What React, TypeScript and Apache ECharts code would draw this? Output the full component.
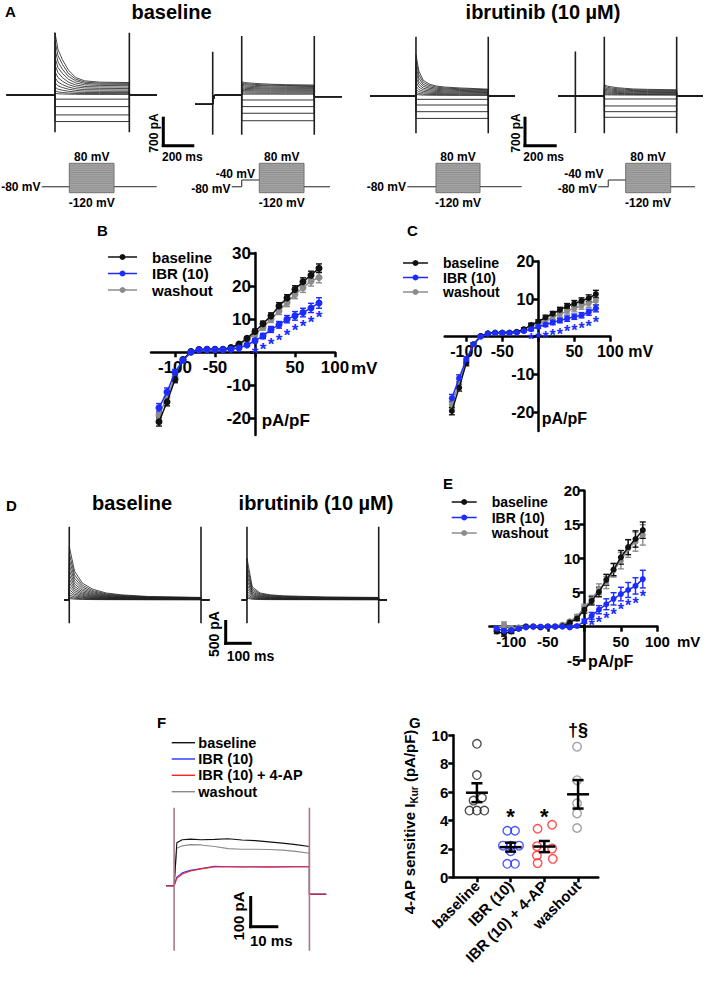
import React, { useEffect, useRef } from "react";
import * as echarts from "echarts";

const FONT = '"Liberation Sans", Arial, Helvetica, sans-serif';
const BLACK = "#111111";
const BLUE = "#1c2bff";
const GREY = "#8c8c8c";
const RED = "#ff2020";
const TRACE = "#1e1e1e";

// ---------- Panel A / D : current families (pA) sampled at these times (ms after step onset)
const traceTimes = [0, 20, 50, 90, 140, 200, 300, 500];

const a1Outward = [
  [1500, 1100, 850, 600, 420, 340, 310, 300],
  [1300, 950, 740, 520, 380, 310, 285, 280],
  [1100, 800, 620, 450, 340, 280, 260, 255],
  [900, 660, 520, 380, 290, 245, 230, 225],
  [720, 540, 420, 310, 240, 205, 195, 190],
  [560, 420, 330, 250, 195, 170, 160, 155],
  [420, 310, 250, 190, 150, 130, 125, 120],
  [300, 220, 180, 140, 110, 95, 90, 88],
  [190, 140, 115, 90, 70, 62, 60, 58],
  [100, 75, 60, 48, 40, 35, 34, 33],
  [40, 30, 25, 20, 17, 15, 14, 14],
];
const a1Inward = [-100, -280, -480, -640];
const a2Outward = [
  [320, 300, 290, 280, 270, 260, 250, 240],
  [290, 275, 265, 255, 245, 238, 230, 222],
  [260, 248, 240, 232, 225, 218, 212, 205],
  [230, 220, 212, 205, 198, 192, 187, 182],
  [200, 190, 184, 178, 172, 167, 163, 160],
  [170, 162, 157, 152, 148, 144, 140, 138],
  [140, 134, 130, 126, 122, 119, 116, 114],
  [110, 106, 103, 100, 97, 95, 93, 92],
  [80, 77, 75, 73, 71, 70, 69, 68],
  [50, 48, 47, 46, 45, 44, 44, 43],
  [22, 21, 21, 20, 20, 20, 19, 19],
];
const a2Inward = [-120, -280, -440, -620];
const a3Outward = [
  [1000, 600, 380, 290, 240, 215, 195, 165],
  [850, 510, 330, 255, 215, 192, 175, 150],
  [700, 430, 280, 220, 188, 170, 155, 135],
  [570, 350, 235, 188, 162, 148, 135, 118],
  [450, 280, 190, 155, 135, 124, 114, 100],
  [340, 215, 150, 124, 110, 100, 93, 83],
  [240, 155, 112, 94, 84, 77, 72, 65],
  [160, 105, 78, 66, 60, 55, 52, 47],
  [90, 60, 45, 39, 35, 33, 31, 29],
  [40, 28, 22, 19, 17, 16, 15, 14],
];
const a3Inward = [-80, -217, -378, -540];
const a4Outward = [
  [270, 240, 220, 200, 185, 170, 160, 150],
  [235, 210, 192, 176, 163, 150, 142, 133],
  [200, 180, 165, 152, 141, 131, 124, 117],
  [168, 152, 140, 129, 120, 112, 106, 100],
  [138, 125, 115, 106, 99, 93, 88, 83],
  [108, 98, 90, 84, 78, 73, 70, 66],
  [80, 73, 67, 62, 58, 55, 52, 50],
  [54, 49, 45, 42, 40, 38, 36, 34],
  [30, 27, 25, 24, 23, 22, 21, 20],
];
const a4Inward = [-72, -240, -378, -513];

const d1Outward = [
  [1150, 620, 360, 230, 150, 110, 75, 55],
  [1000, 540, 315, 200, 132, 97, 67, 50],
  [870, 470, 275, 176, 116, 86, 60, 45],
  [750, 405, 238, 153, 102, 76, 54, 40],
  [640, 345, 204, 132, 89, 67, 48, 36],
  [540, 292, 173, 113, 77, 58, 42, 32],
  [450, 243, 145, 96, 66, 50, 37, 28],
  [370, 200, 120, 80, 56, 43, 32, 24],
  [295, 160, 97, 65, 46, 36, 27, 20],
  [225, 123, 76, 52, 37, 29, 22, 17],
  [165, 91, 57, 39, 29, 23, 18, 14],
  [110, 62, 40, 28, 21, 17, 13, 10],
  [65, 38, 25, 18, 14, 11, 9, 7],
  [30, 18, 12, 9, 7, 6, 5, 4],
];
const d2Outward = [
  [900, 280, 150, 110, 90, 80, 65, 55],
  [760, 240, 130, 96, 78, 70, 57, 48],
  [640, 205, 112, 83, 68, 61, 50, 42],
  [530, 172, 95, 71, 58, 52, 43, 36],
  [430, 142, 80, 60, 49, 44, 36, 30],
  [340, 115, 66, 49, 40, 36, 30, 25],
  [260, 90, 52, 39, 32, 29, 24, 20],
  [190, 68, 40, 30, 25, 22, 19, 16],
  [130, 48, 29, 22, 18, 16, 14, 12],
  [80, 31, 19, 15, 12, 11, 10, 8],
  [40, 16, 10, 8, 7, 6, 5, 4],
];

// capacitive transients: [time ms, top pA, bottom pA]
const a1Spikes = [[0, 1500, -900], [500, 1500, -900]];
const a2Spikes = [[-200, 1040, -960], [0, 1420, -960], [500, 1420, -960]];
const a3Spikes = [[0, 1430, -900], [500, 1430, -900]];
const a4Spikes = [[-200, 1070, -890], [0, 1430, -900], [500, 1430, -900]];
const dSpikes = [[0, 1576, -500], [500, 1576, -500]];

// ---------- Panel F traces (pA) at these times (ms)
const fTimes = [0, 1, 3, 6, 10, 15, 20, 25, 30, 35, 40, 45, 50];
const fBaseline = [0, 140, 150, 152, 150, 151, 153, 149, 147, 143, 139, 134, 128];
const fWashout = [0, 122, 130, 134, 133, 128, 121, 119, 119, 118, 116, 112, 106];
const fIbr = [0, 28, 42, 50, 56, 63, 62, 61, 62, 61, 62, 62, 62];
const fIbrAp = [0, 24, 38, 48, 55, 62, 62, 62, 61, 62, 61, 62, 62];
const fSpikes = [[0, 254, -212], [50, 254, -212]];

// ---------- I-V curves (pA/pF)
const ivVoltages = [-120, -110, -100, -90, -80, -70, -60, -50, -40, -30, -20, -10, 0, 10, 20, 30, 40, 50, 60, 70, 80];

const bBaseline = [-21, -15, -8.2, -2.2, 0.2, 0.8, 0.9, 0.9, 0.9, 1.4, 2.5, 4.2, 6.3, 8.6, 11, 14, 16.4, 19, 21.3, 23.3, 25.4];
const bIbr = [-16.8, -12, -6.1, -2.4, 0, 0.7, 0.8, 0.8, 0.8, 0.9, 1.3, 2.2, 3.5, 4.9, 6.9, 8.3, 10, 11, 12, 13.4, 14.9];
const bWashout = [-19, -13.5, -7.5, -2.3, 0.2, 0.8, 0.9, 0.9, 0.9, 1.3, 2.3, 3.8, 5.5, 7.6, 10, 12.5, 15, 17.5, 19.5, 21.5, 22.6];
const bBaselineErr = [1.3, 1.2, 1, 0.5, 0.2, 0.2, 0.2, 0.2, 0.2, 0.3, 0.4, 0.5, 0.7, 0.8, 0.9, 1, 1, 1.1, 1.2, 1.2, 1.3];
const bIbrErr = [1.3, 1.2, 0.9, 0.5, 0.2, 0.2, 0.2, 0.2, 0.2, 0.2, 0.3, 0.4, 0.6, 0.8, 0.9, 1, 1.1, 1.3, 1.3, 1.4, 1.6];
const bWashoutErr = [1.2, 1.1, 0.9, 0.5, 0.2, 0.2, 0.2, 0.2, 0.2, 0.3, 0.4, 0.6, 0.8, 0.9, 1, 1.1, 1.2, 1.3, 1.4, 1.5, 1.6];
const bStarV = [0, 10, 20, 30, 40, 50, 60, 70, 80];
const bStarY = [0.7, 2, 3.4, 4.7, 6.2, 7.6, 8.8, 10.2, 11.6];

const cBaseline = [-19.7, -13.5, -7, -2, 0.2, 0.9, 1.1, 1.1, 1.1, 1.3, 2, 3.1, 4, 5.1, 6.1, 7.1, 8.1, 8.8, 9.5, 10.2, 11.3];
const cIbr = [-16.3, -11, -6, -2, 0, 0.8, 1, 1, 1, 1.1, 1.5, 2, 2.7, 3.2, 3.8, 4.3, 4.8, 5.3, 5.7, 6.5, 7.5];
const cWashout = [-18, -12.3, -6.5, -2, 0.1, 0.9, 1, 1, 1, 1.2, 1.8, 2.8, 3.5, 4.2, 5.2, 6, 6.8, 7.5, 8.2, 8.8, 9.5];
const cBaselineErr = [1, 0.9, 0.7, 0.4, 0.2, 0.2, 0.2, 0.2, 0.2, 0.3, 0.4, 0.5, 0.5, 0.6, 0.6, 0.7, 0.7, 0.8, 0.8, 0.9, 1];
const cIbrErr = [1, 0.9, 0.7, 0.4, 0.2, 0.2, 0.2, 0.2, 0.2, 0.2, 0.3, 0.4, 0.5, 0.5, 0.6, 0.6, 0.7, 0.7, 0.7, 0.8, 0.9];
const cWashoutErr = [1, 0.9, 0.7, 0.4, 0.2, 0.2, 0.2, 0.2, 0.2, 0.3, 0.4, 0.5, 0.6, 0.6, 0.7, 0.8, 0.8, 0.9, 0.9, 1, 1];
const cStarV = [-10, 0, 10, 20, 30, 40, 50, 60, 70, 80];
const cStarY = [0.2, 0.5, 0.8, 1.2, 1.6, 2.2, 2.6, 3.1, 3.6, 4.8];

const eBaseline = [-0.7, -1, -0.7, -0.3, 0, 0, -0.1, 0, 0, 0.1, 0.6, 1.2, 2.5, 3.8, 5.1, 6.9, 8.4, 10.2, 11.7, 12.9, 14.2];
const eIbr = [-0.3, -0.6, -0.5, -0.3, -0.1, 0, 0, 0, 0, 0, -0.1, 0.1, 0.8, 1.6, 2.5, 3.3, 4.1, 4.8, 5.4, 6, 7];
const eWashout = [-0.3, 0.3, -0.2, -0.1, 0.1, 0.1, 0, 0.1, 0.1, 0.3, 0.8, 1.5, 2.8, 4, 5.5, 6.5, 8.3, 9.7, 11.5, 12.5, 13.5];
const eBaselineErr = [0.3, 0.4, 0.3, 0.2, 0.1, 0.1, 0.1, 0.1, 0.1, 0.1, 0.2, 0.3, 0.5, 0.6, 0.7, 0.8, 0.9, 1, 1.1, 1.2, 1.2];
const eIbrErr = [0.3, 0.3, 0.3, 0.2, 0.1, 0.1, 0.1, 0.1, 0.1, 0.1, 0.1, 0.2, 0.3, 0.5, 0.6, 0.8, 0.9, 1, 1.1, 1.2, 1.3];
const eWashoutErr = [0.3, 0.4, 0.3, 0.2, 0.1, 0.1, 0.1, 0.1, 0.1, 0.1, 0.2, 0.3, 0.5, 0.6, 0.8, 0.9, 1, 1.2, 1.3, 1.4, 1.5];
const eStarV = [10, 20, 30, 40, 50, 60, 70, 80];
const eStarY = [0.7, 1.2, 1.7, 2.35, 3, 3.7, 4, 5];

// ---------- Panel G (pA/pF)
const gCategories = ["baseline", "IBR (10)", "IBR (10) + 4-AP", "washout"];
const gBaseline = [9.4, 7.2, 5.6, 5.4, 4.7, 4.7, 4.7];
const gIbr = [3.28, 3.28, 2.23, 2.23, 2.23, 1.84, 0.95, 0.95];
const gIbrAp = [3.42, 3.7, 2.19, 2.02, 1.53, 1.3, 1.0];
const gWashout = [9.2, 6.84, 5.21, 4.5, 3.47];
const gJitter = [
  [0, 0, 0.15, -0.1, -0.22, 0, 0.22],
  [-0.1, 0.13, -0.23, 0, 0.25, 0, -0.1, 0.13],
  [-0.2, 0.23, -0.22, 0.23, -0.22, 0.25, -0.2],
  [-0.03, -0.03, -0.03, -0.03, -0.03],
];
const gStarCats = [1, 2];
const gStarY = [4.6, 4.6];
const gDaggerY = 10.35;

function meanSem(v: number[]) {
  const m = v.reduce((a, b) => a + b, 0) / v.length;
  const sd = Math.sqrt(v.reduce((a, b) => a + (b - m) * (b - m), 0) / (v.length - 1));
  return [m, sd / Math.sqrt(v.length)];
}

function buildOption() {
  const grids: any[] = [];
  const xAxes: any[] = [];
  const yAxes: any[] = [];
  const series: any[] = [];
  const graphic: any[] = [];

  const addGrid = (left: number, top: number, width: number, height: number) => {
    grids.push({ left, top, width, height, containLabel: false });
    return grids.length - 1;
  };
  const hidden = (gi: number, min: number, max: number) => ({ gridIndex: gi, type: "value", min, max, show: false });

  // ---- trace panels
  const traceGrid = (left: number, top: number, width: number, height: number, x0: number, x1: number, y0: number, y1: number) => {
    const gi = addGrid(left, top, width, height);
    xAxes.push(hidden(gi, x0, x1));
    yAxes.push(hidden(gi, y0, y1));
    return gi;
  };
  const lineS = (gi: number, data: number[][], color: string, width: number, z = 2) =>
    series.push({
      type: "line", xAxisIndex: gi, yAxisIndex: gi, data, symbol: "none", silent: true, z,
      lineStyle: { color, width }, animation: false,
    });

  const family = (gi: number, pre: number[][], post: number, xEnd: number, outward: number[][], inward: number[], spikes: number[][]) => {
    outward.forEach((row) => {
      const d = [...pre, ...traceTimes.map((t, i) => [t, row[i]]), [500, post], [xEnd, post]];
      lineS(gi, d, TRACE, 0.8);
    });
    inward.forEach((v) => {
      lineS(gi, [...pre, [0, v], [500, v], [500, post], [xEnd, post]], TRACE, 0.9);
    });
    spikes.forEach((s) => lineS(gi, [[s[0], s[1]], [s[0], s[2]]], TRACE, 1.6, 3));
  };

  const gA1 = traceGrid(6.7, 28.6, 150, 107.9, -325, 684, -1000, 1600);
  family(gA1, [[-325, 0], [0, 0]], 0, 684, a1Outward, a1Inward, a1Spikes);
  const gA2 = traceGrid(195, 28.6, 146.7, 107.9, -322, 689, -1000, 1600);
  family(gA2, [[-322, -225], [-200, -225], [-190, -10], [-170, 0], [0, 0]], -40, 689, a2Outward, a2Inward, a2Spikes);
  const gA3 = traceGrid(370, 29.6, 145, 107.9, -318, 685, -1000, 1600);
  family(gA3, [[-318, 0], [0, 0]], 0, 685, a3Outward, a3Inward, a3Spikes);
  const gA4 = traceGrid(558, 29.6, 145, 107.9, -320, 682, -1000, 1600);
  family(gA4, [[-320, 0], [0, 0]], 0, 682, a4Outward, a4Inward, a4Spikes);

  const gD1 = traceGrid(64, 520.9, 145.3, 107, -20, 531.5, -600, 1700);
  family(gD1, [[-20, 0], [0, 0]], 0, 531.5, d1Outward, [], dSpikes);
  const gD2 = traceGrid(241.7, 520.9, 145.3, 107, -20, 531.5, -600, 1700);
  family(gD2, [[-20, 0], [0, 0]], 0, 531.5, d2Outward, [], dSpikes);

  const gF = traceGrid(166, 793.7, 160.2, 168.7, -3, 56.2, -250, 300);
  const fTrace = (vals: number[], color: string) =>
    lineS(gF, [[-3, 0], ...fTimes.map((t, i) => [t, vals[i]]), [50, -28], [56.2, -28]], color, 1.1);
  fTrace(fWashout, "#8a8a8a");
  fTrace(fBaseline, "#111111");
  fTrace(fIbr, "#2233ff");
  fTrace(fIbrAp, "#ff2222");
  fSpikes.forEach((s) => lineS(gF, [[s[0], s[1]], [s[0], s[2]]], "#a97a88", 1.6, 4));

  // ---- I-V panels (axes crossing at the origin, via offsets)
  const axisLineStyle = { color: "#000", width: 2.5 };
  const X_MIN = -130, X_MAX = 100;
  const ivGrid = (left: number, top: number, width: number, height: number, yMin: number, yMax: number,
    yTicks: number[], yLabels: number[], fs: number) => {
    const gi = addGrid(left, top, width, height);
    const zeroY = (height * yMax) / (yMax - yMin); // px from top to y=0
    const zeroX = (width * (0 - X_MIN)) / (X_MAX - X_MIN); // px from left to x=0
    xAxes.push({
      gridIndex: gi, type: "value", min: X_MIN, max: X_MAX, position: "bottom", offset: -(height - zeroY),
      axisLine: { show: true, onZero: false, lineStyle: axisLineStyle },
      axisTick: { show: true, length: 5, customValues: [-100, -50, 0, 50, 100], lineStyle: axisLineStyle },
      axisLabel: { show: true, customValues: [-100, -50, 50, 100], fontSize: fs, fontWeight: "bold", fontFamily: FONT, color: "#000", margin: 7 },
      splitLine: { show: false },
    });
    yAxes.push({
      gridIndex: gi, type: "value", min: yMin, max: yMax, position: "left", offset: -zeroX,
      axisLine: { show: true, onZero: false, lineStyle: axisLineStyle },
      axisTick: { show: true, length: 5, customValues: yTicks, lineStyle: axisLineStyle },
      axisLabel: { show: true, customValues: yLabels, fontSize: fs, fontWeight: "bold", fontFamily: FONT, color: "#000", margin: 4 },
      splitLine: { show: false },
    });
    return gi;
  };
  const errS = (gi: number, ys: number[], errs: number[], color: string, cap: number) =>
    series.push({
      type: "custom", xAxisIndex: gi, yAxisIndex: gi, silent: true, z: 2,
      data: ivVoltages.map((v, i) => [v, ys[i], errs[i]]),
      renderItem: (params: any, api: any) => {
        const x = api.value(0), y = api.value(1), e = api.value(2);
        const a = api.coord([x, y + e]);
        const b = api.coord([x, y - e]);
        const st = { stroke: color, lineWidth: 1.4 };
        return {
          type: "group", children: [
            { type: "line", shape: { x1: a[0], y1: a[1], x2: b[0], y2: b[1] }, style: st },
            { type: "line", shape: { x1: a[0] - cap, y1: a[1], x2: a[0] + cap, y2: a[1] }, style: st },
            { type: "line", shape: { x1: b[0] - cap, y1: b[1], x2: b[0] + cap, y2: b[1] }, style: st },
          ],
        };
      },
    });
  const ivLine = (gi: number, name: string, ys: number[], color: string, size: number, z: number) =>
    series.push({
      type: "line", name, xAxisIndex: gi, yAxisIndex: gi, silent: true, z,
      data: ivVoltages.map((v, i) => [v, ys[i]]),
      symbol: "circle", symbolSize: size, itemStyle: { color }, lineStyle: { color, width: 1.5 },
    });
  const starS = (gi: number, xs: number[], ys: number[], color: string, fs: number) =>
    series.push({
      type: "custom", xAxisIndex: gi, yAxisIndex: gi, silent: true, z: 5,
      data: xs.map((x, i) => [x, ys[i]]),
      renderItem: (params: any, api: any) => {
        const p = api.coord([api.value(0), api.value(1)]);
        return {
          type: "text", x: p[0], y: p[1] + fs * 0.22,
          style: { text: "*", fill: color, fontSize: fs, fontWeight: "bold", fontFamily: FONT, align: "center", verticalAlign: "middle" },
        };
      },
    });
  const ivPanel = (gi: number, base: number[], ibr: number[], wash: number[], be: number[], ie: number[], we: number[],
    size: number, sx: number[], sy: number[], sfs: number) => {
    errS(gi, wash, we, GREY, 3);
    errS(gi, base, be, BLACK, 3);
    errS(gi, ibr, ie, BLUE, 3);
    ivLine(gi, "washout", wash, GREY, size, 3);
    ivLine(gi, "baseline", base, BLACK, size, 4);
    ivLine(gi, "IBR (10)", ibr, BLUE, size, 5);
    starS(gi, sx, sy, BLUE, sfs);
  };

  const gB = ivGrid(151, 253, 184, 182, -25, 30, [-20, -10, 0, 10, 20, 30], [-20, -10, 10, 20, 30], 17);
  ivPanel(gB, bBaseline, bIbr, bWashout, bBaselineErr, bIbrErr, bWashoutErr, 7, bStarV, bStarY, 17);
  const gC = ivGrid(444.7, 261.3, 165.6, 169.7, -25, 20, [-20, -10, 0, 10, 20], [-20, -10, 10, 20], 16);
  ivPanel(gC, cBaseline, cIbr, cWashout, cBaselineErr, cIbrErr, cWashoutErr, 6, cStarV, cStarY, 16);
  const gE = ivGrid(489.4, 490.7, 168, 170, -5, 20, [-5, 0, 5, 10, 15, 20], [-5, 5, 10, 15, 20], 15);
  ivPanel(gE, eBaseline, eIbr, eWashout, eBaselineErr, eIbrErr, eWashoutErr, 6, eStarV, eStarY, 16);

  // ---- panel G
  const gG = addGrid(453.3, 735.3, 145, 142);
  xAxes.push({
    gridIndex: gG, type: "value", min: -0.7, max: 3.6,
    axisLine: { show: true, onZero: false, lineStyle: axisLineStyle },
    axisTick: { show: true, length: 5, customValues: [0, 1, 2, 3], lineStyle: axisLineStyle },
    axisLabel: {
      show: true, customValues: [0, 1, 2, 3], rotate: 45, margin: 6,
      formatter: (v: number) => gCategories[Math.round(v)],
      fontSize: 15, fontWeight: "bold", fontFamily: FONT, color: "#000",
    },
    splitLine: { show: false },
  });
  yAxes.push({
    gridIndex: gG, type: "value", min: 0, max: 10, interval: 2,
    axisLine: { show: true, onZero: false, lineStyle: axisLineStyle },
    axisTick: { show: true, length: 5, lineStyle: axisLineStyle },
    axisLabel: { show: true, fontSize: 15, fontWeight: "bold", fontFamily: FONT, color: "#000", margin: 5 },
    splitLine: { show: false },
  });
  const gGroups = [gBaseline, gIbr, gIbrAp, gWashout];
  const gColors = ["#222222", "#2233ff", "#ff2222", "#8a8a8a"];
  gGroups.forEach((vals, i) => {
    series.push({
      type: "scatter", xAxisIndex: gG, yAxisIndex: gG, silent: true, z: 3,
      data: vals.map((v, j) => [i + gJitter[i][j], v]),
      symbol: "circle", symbolSize: 8.5,
      itemStyle: { color: "rgba(255,255,255,0)", borderColor: gColors[i], borderWidth: 1.4 },
    });
  });
  series.push({
    type: "custom", xAxisIndex: gG, yAxisIndex: gG, silent: true, z: 6,
    data: gGroups.map((vals, i) => { const [m, s] = meanSem(vals); return [i, m, s]; }),
    renderItem: (params: any, api: any) => {
      const x = api.value(0), m = api.value(1), s = api.value(2);
      const pm = api.coord([x, m]);
      const hi = api.coord([x, m + s]);
      const lo = api.coord([x, m - s]);
      const halfMean = 11, halfCap = 5.5;
      const st = { stroke: "#000", lineWidth: 2.5 };
      return {
        type: "group", children: [
          { type: "line", shape: { x1: pm[0] - halfMean, y1: pm[1], x2: pm[0] + halfMean, y2: pm[1] }, style: st },
          { type: "line", shape: { x1: hi[0], y1: hi[1], x2: lo[0], y2: lo[1] }, style: st },
          { type: "line", shape: { x1: hi[0] - halfCap, y1: hi[1], x2: hi[0] + halfCap, y2: hi[1] }, style: st },
          { type: "line", shape: { x1: lo[0] - halfCap, y1: lo[1], x2: lo[0] + halfCap, y2: lo[1] }, style: st },
        ],
      };
    },
  });
  series.push({
    type: "custom", xAxisIndex: gG, yAxisIndex: gG, silent: true, z: 6,
    data: [...gStarCats.map((c, i) => [c, gStarY[i], 0]), [3, gDaggerY, 1]],
    renderItem: (params: any, api: any) => {
      const p = api.coord([api.value(0), api.value(1)]);
      const dag = api.value(2) === 1;
      return {
        type: "text", x: p[0], y: dag ? p[1] : p[1] + 5,
        style: {
          text: dag ? "†§" : "*", fill: "#000", fontSize: dag ? 18 : 22, fontWeight: "bold",
          fontFamily: FONT, align: "center", verticalAlign: "middle",
        },
      };
    },
  });

  // ---- graphic annotations
  const txt = (x: number, y: number, text: string, fontSize: number, align = "left", rotation = 0, weight = "bold") =>
    graphic.push({
      type: "text", x, y, rotation, z: 100, silent: true,
      style: { text, fontSize, fontWeight: weight, fontFamily: FONT, fill: "#000", align, verticalAlign: "middle" },
    });
  const ln = (x1: number, y1: number, x2: number, y2: number, w = 3, stroke = "#000") =>
    graphic.push({ type: "line", z: 100, silent: true, shape: { x1, y1, x2, y2 }, style: { stroke, lineWidth: w } });

  // panel letters
  txt(5, 11, "A", 15);
  txt(97, 230, "B", 15);
  txt(407, 230, "C", 15);
  txt(6, 505, "D", 15);
  txt(443, 483, "E", 15);
  txt(157, 722, "F", 15);
  txt(409, 722, "G", 15);

  // titles
  txt(171.5, 12, "baseline", 20, "center");
  txt(543, 12, "ibrutinib (10 µM)", 20, "center");
  txt(132, 503, "baseline", 20, "center");
  txt(316, 503, "ibrutinib (10 µM)", 20, "center");

  // scale bars
  ln(163.3, 116.7, 163.3, 147, 3); ln(161.8, 145.7, 194.3, 145.7, 3);
  txt(154.3, 133, "700 pA", 12, "center", Math.PI / 2);
  txt(162, 157, "200 ms", 12);
  ln(525, 116.7, 525, 147, 3); ln(523.5, 145.7, 556.7, 145.7, 3);
  txt(515.7, 133, "700 pA", 12, "center", Math.PI / 2);
  txt(523.3, 157, "200 ms", 12);
  ln(225.7, 620, 225.7, 644.8, 3); ln(224.2, 643.3, 251.7, 643.3, 3);
  txt(213.5, 634, "500 pA", 14, "center", Math.PI / 2);
  txt(226.7, 656, "100 ms", 14);
  ln(250.7, 896, 250.7, 928.2, 3); ln(249.2, 926.7, 278.3, 926.7, 3);
  txt(238.5, 916, "100 pA", 15, "center", Math.PI / 2);
  txt(250, 940, "10 ms", 15);

  // voltage protocols
  const PROT = "#555555";
  const box = (x: number, w: number) => {
    graphic.push({ type: "rect", z: 99, silent: true, shape: { x, y: 163.3, width: w, height: 29.4 }, style: { fill: "#ababab", stroke: "#707070", lineWidth: 1 } });
    for (let k = 1; k < 16; k++) ln(x, 163.3 + (k * 29.4) / 16, x + w, 163.3 + (k * 29.4) / 16, 0.6, "#7c7c7c");
  };
  ln(41.7, 186.7, 69.3, 186.7, 1.3, PROT); box(69.3, 44.7); ln(114, 186.7, 156.7, 186.7, 1.3, PROT);
  txt(40.5, 187, "-80 mV", 12, "right"); txt(91.7, 156.5, "80 mV", 12, "center"); txt(91.7, 203.3, "-120 mV", 12, "center");
  ln(231.7, 186.7, 241.7, 186.7, 1.3, PROT); ln(241.7, 186.7, 241.7, 180, 1.3, PROT); ln(241.7, 180, 259.3, 180, 1.3, PROT);
  box(259.3, 44.7); ln(304, 186.7, 330, 186.7, 1.3, PROT);
  txt(255, 174, "-40 mV", 12, "right"); txt(230.5, 189.3, "-80 mV", 12, "right");
  txt(281.7, 156.5, "80 mV", 12, "center"); txt(281.7, 203.3, "-120 mV", 12, "center");
  ln(407.3, 186.7, 436, 186.7, 1.3, PROT); box(436, 44); ln(480, 186.7, 521.7, 186.7, 1.3, PROT);
  txt(406, 187, "-80 mV", 12, "right"); txt(458, 156.5, "80 mV", 12, "center"); txt(458, 203.3, "-120 mV", 12, "center");
  ln(598.3, 186.7, 608.3, 186.7, 1.3, PROT); ln(608.3, 186.7, 608.3, 180, 1.3, PROT); ln(608.3, 180, 625.7, 180, 1.3, PROT);
  box(625.7, 45); ln(670.7, 186.7, 695, 186.7, 1.3, PROT);
  txt(603.5, 174, "-40 mV", 12, "right"); txt(597, 189.3, "-80 mV", 12, "right");
  txt(648, 156.5, "80 mV", 12, "center"); txt(648, 203.3, "-120 mV", 12, "center");

  // axis units
  txt(351, 368, "mV", 17); txt(261.7, 420, "pA/pF", 17);
  txt(628.3, 351.7, "mV", 16); txt(541.7, 418.3, "pA/pF", 16);
  txt(677, 641.7, "mV", 15); txt(588, 661.7, "pA/pF", 16);

  // legends
  const legend = (x1: number, x2: number, tx: number, ys: number[], items: { label: string; color: string }[], dot: boolean, fs: number) => {
    items.forEach((it, i) => {
      ln(x1, ys[i], x2, ys[i], dot ? 1.5 : 1.4, it.color);
      if (dot) graphic.push({ type: "circle", z: 101, silent: true, shape: { cx: (x1 + x2) / 2, cy: ys[i], r: 3 }, style: { fill: it.color } });
      txt(tx, ys[i], it.label, fs);
    });
  };
  const ivItems = [{ label: "baseline", color: BLACK }, { label: "IBR (10)", color: BLUE }, { label: "washout", color: GREY }];
  legend(108, 137, 152, [257, 273.5, 290], ivItems, true, 15);
  legend(403, 428, 443, [263, 277.5, 292], ivItems, true, 14);
  legend(451.7, 476.7, 491.7, [502, 517.5, 533], ivItems, true, 14);
  legend(171.7, 195, 198.3, [742.7, 759, 775.3, 791.7], [
    { label: "baseline", color: "#111111" }, { label: "IBR (10)", color: "#2233ff" },
    { label: "IBR (10) + 4-AP", color: "#ff2222" }, { label: "washout", color: "#8a8a8a" },
  ], false, 14.5);

  // G y-axis title with subscript
  graphic.push({
    type: "text", x: 409, y: 822, rotation: Math.PI / 2, z: 100, silent: true,
    style: {
      text: "{a|4-AP sensitive I}{s|Kur}{a| (pA/pF)}",
      align: "center", verticalAlign: "middle", fill: "#000",
      rich: {
        a: { fontSize: 15, fontWeight: "bold", fontFamily: FONT, fill: "#000", lineHeight: 20, verticalAlign: "middle" },
        s: { fontSize: 10, fontWeight: "bold", fontFamily: FONT, fill: "#000", lineHeight: 20, verticalAlign: "bottom", padding: [6, 0, 0, 0] },
      },
    },
  });

  return { animation: false, backgroundColor: "#ffffff", grid: grids, xAxis: xAxes, yAxis: yAxes, series, graphic };
}

export default function App() {
  const ref = useRef<HTMLDivElement>(null);
  useEffect(() => {
    const chart = echarts.init(ref.current!, undefined, { renderer: "svg" });
    chart.setOption(buildOption());
    return () => chart.dispose();
  }, []);
  return <div ref={ref} style={{ position: "fixed", left: 0, top: 0, width: 709, height: 986, background: "#fff" }} />;
}
